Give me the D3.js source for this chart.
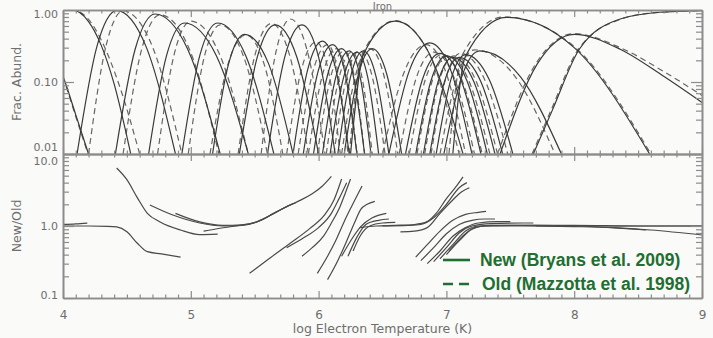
<!DOCTYPE html>
<html>
<head>
<meta charset="utf-8">
<script src="https://cdn.jsdelivr.net/npm/d3@7"></script>
<style>
  html, body { margin: 0; padding: 0; background: #fafaf8; }
  svg { display: block; font-family: "Liberation Sans", Arial, Helvetica, sans-serif; }
</style>
</head>
<body>
<svg id="chart" width="713" height="338"></svg>
<script>
// ---- Iron ionization balance: fractional abundance of Fe I ... Fe XXVII ----
const ions = ["Fe I","Fe II","Fe III","Fe IV","Fe V","Fe VI","Fe VII","Fe VIII","Fe IX",
  "Fe X","Fe XI","Fe XII","Fe XIII","Fe XIV","Fe XV","Fe XVI","Fe XVII","Fe XVIII",
  "Fe XIX","Fe XX","Fe XXI","Fe XXII","Fe XXIII","Fe XXIV","Fe XXV","Fe XXVI","Fe XXVII"];

// [log T, fraction] samples, new rates (Bryans et al. 2009)
const newFrac = [
  [[3.9,0.3],[4.0,0.12],[4.1,0.035],[4.2,0.01]],
  [[3.9,0.97],[4.07,1.0],[4.2,0.69],[4.3,0.32],[4.4,0.094],[4.53,0.01]],
  [[4.11,0.01],[4.265,0.31],[4.42,0.98],[4.65,0.31],[4.88,0.01]],
  [[4.41,0.01],[4.565,0.287],[4.72,0.88],[4.975,0.287],[5.23,0.01]],
  [[4.67,0.01],[4.81,0.232],[4.95,0.66],[5.2,0.232],[5.45,0.01]],
  [[4.93,0.01],[5.07,0.232],[5.21,0.66],[5.43,0.232],[5.65,0.01]],
  [[5.17,0.01],[5.295,0.177],[5.42,0.46],[5.61,0.177],[5.8,0.01]],
  [[5.38,0.01],[5.52,0.221],[5.66,0.62],[5.83,0.221],[6.0,0.01]],
  [[5.6,0.01],[5.735,0.221],[5.87,0.62],[6.0,0.221],[6.13,0.01]],
  [[5.8,0.01],[5.915,0.15],[6.03,0.37],[6.135,0.15],[6.24,0.01]],
  [[5.88,0.01],[5.995,0.138],[6.11,0.33],[6.205,0.138],[6.3,0.01]],
  [[5.96,0.01],[6.07,0.125],[6.18,0.29],[6.27,0.125],[6.36,0.01]],
  [[6.03,0.01],[6.135,0.118],[6.24,0.27],[6.325,0.118],[6.41,0.01]],
  [[6.09,0.01],[6.195,0.115],[6.3,0.26],[6.385,0.115],[6.47,0.01]],
  [[6.15,0.01],[6.25,0.118],[6.35,0.27],[6.45,0.118],[6.55,0.01]],
  [[6.2,0.01],[6.31,0.125],[6.42,0.29],[6.535,0.125],[6.65,0.01]],
  [[6.25,0.01],[6.35,0.24],[6.6,0.7],[6.85,0.28],[7.13,0.01]],
  [[6.55,0.01],[6.71,0.144],[6.87,0.35],[7.035,0.144],[7.2,0.01]],
  [[6.68,0.01],[6.815,0.112],[6.95,0.25],[7.11,0.112],[7.27,0.01]],
  [[6.76,0.01],[6.88,0.105],[7.0,0.23],[7.16,0.105],[7.32,0.01]],
  [[6.82,0.01],[6.935,0.101],[7.05,0.22],[7.215,0.101],[7.38,0.01]],
  [[6.87,0.01],[6.985,0.101],[7.1,0.22],[7.27,0.101],[7.44,0.01]],
  [[6.92,0.01],[7.035,0.108],[7.15,0.24],[7.335,0.108],[7.52,0.01]],
  [[6.98,0.01],[7.12,0.118],[7.26,0.27],[7.58,0.118],[7.9,0.01]],
  [[7.05,0.01],[7.15,0.23],[7.47,0.79],[8.0,0.3],[8.59,0.01]],
  [[7.42,0.01],[7.71,0.177],[8.0,0.46],[8.36,0.285],[8.7,0.12],[9.0,0.052]],
  [[7.68,0.01],[7.83,0.041],[8.04,0.285],[8.36,0.75],[8.67,0.93],[9.0,0.98]]
];

// [log T, fraction] samples, old rates (Mazzotta et al. 1998)
const oldFrac = [
  [[3.9,0.28],[4.0,0.115],[4.1,0.033],[4.2,0.0095]],
  [[3.9,0.97],[4.07,1.0],[4.2,0.74],[4.3,0.38],[4.45,0.08],[4.6,0.01]],
  [[4.2,0.01],[4.335,0.309],[4.47,0.97],[4.7,0.309],[4.93,0.01]],
  [[4.47,0.01],[4.615,0.282],[4.76,0.86],[4.99,0.282],[5.22,0.01]],
  [[4.74,0.01],[4.87,0.242],[5.0,0.7],[5.225,0.242],[5.45,0.01]],
  [[4.98,0.01],[5.105,0.221],[5.23,0.62],[5.415,0.221],[5.6,0.01]],
  [[5.15,0.01],[5.29,0.174],[5.43,0.45],[5.575,0.174],[5.72,0.01]],
  [[5.37,0.01],[5.5,0.229],[5.63,0.65],[5.775,0.229],[5.92,0.01]],
  [[5.55,0.01],[5.665,0.255],[5.78,0.75],[5.915,0.255],[6.05,0.01]],
  [[5.75,0.01],[5.865,0.147],[5.98,0.36],[6.075,0.147],[6.17,0.01]],
  [[5.84,0.01],[5.955,0.138],[6.07,0.33],[6.15,0.138],[6.23,0.01]],
  [[5.92,0.01],[6.03,0.125],[6.14,0.29],[6.22,0.125],[6.3,0.01]],
  [[5.99,0.01],[6.095,0.118],[6.2,0.27],[6.28,0.118],[6.36,0.01]],
  [[6.06,0.01],[6.16,0.115],[6.26,0.26],[6.34,0.115],[6.42,0.01]],
  [[6.12,0.01],[6.22,0.118],[6.32,0.27],[6.42,0.118],[6.52,0.01]],
  [[6.18,0.01],[6.29,0.125],[6.4,0.29],[6.51,0.125],[6.62,0.01]],
  [[6.24,0.01],[6.34,0.24],[6.6,0.71],[6.85,0.28],[7.1,0.01]],
  [[6.5,0.01],[6.67,0.138],[6.84,0.33],[6.995,0.138],[7.15,0.01]],
  [[6.63,0.01],[6.765,0.115],[6.9,0.26],[7.06,0.115],[7.22,0.01]],
  [[6.71,0.01],[6.835,0.108],[6.96,0.24],[7.12,0.108],[7.28,0.01]],
  [[6.77,0.01],[6.89,0.105],[7.01,0.23],[7.175,0.105],[7.34,0.01]],
  [[6.83,0.01],[6.945,0.105],[7.06,0.23],[7.23,0.105],[7.4,0.01]],
  [[6.88,0.01],[6.995,0.112],[7.11,0.25],[7.295,0.112],[7.48,0.01]],
  [[6.95,0.01],[7.085,0.121],[7.22,0.28],[7.535,0.121],[7.85,0.01]],
  [[7.02,0.01],[7.12,0.23],[7.45,0.8],[8.0,0.31],[8.6,0.01]],
  [[7.4,0.01],[7.7,0.18],[8.0,0.47],[8.36,0.3],[8.7,0.14],[9.0,0.065]],
  [[7.67,0.01],[7.82,0.041],[8.03,0.28],[8.36,0.74],[8.67,0.93],[9.0,0.98]]
];

// [log T, New/Old] ratio samples, one list per ion over its computed range
const ratioCurves = [
  [[4.0,1.05],[4.1,1.07],[4.19,1.1]],
  [[4.0,1.0],[4.2,1.0],[4.35,0.99],[4.42,0.97],[4.5,0.83],[4.58,0.58],[4.66,0.44],[4.77,0.41],[4.92,0.37]],
  [[4.42,6.4],[4.5,4.4],[4.58,2.5],[4.66,1.5],[4.76,1.14],[4.92,0.88],[5.07,0.76],[5.21,0.77]],
  [[4.68,1.96],[4.86,1.42],[5.07,1.1],[5.25,1.0],[5.4,1.02],[5.55,1.2],[5.65,1.5],[5.75,1.85],[5.82,2.1]],
  [[4.88,1.5],[5.07,1.14],[5.25,1.02],[5.4,1.04],[5.55,1.2],[5.65,1.5],[5.75,1.85],[5.85,2.25],[5.95,2.8],[6.03,3.6],[6.1,4.9]],
  [[5.1,0.85],[5.23,0.93],[5.35,1.0],[5.5,1.12],[5.62,1.4],[5.72,1.75],[5.8,2.05]],
  [[5.46,0.22],[5.62,0.36],[5.78,0.58],[5.93,0.92],[6.05,1.45],[6.12,2.3],[6.18,4.5]],
  [[5.75,0.5],[5.88,0.68],[6.0,0.95],[6.1,1.5],[6.16,2.4],[6.22,4.0]],
  [[5.87,0.38],[5.95,0.5],[6.04,0.73],[6.1,1.1],[6.17,1.9],[6.21,2.9],[6.25,4.5]],
  [[5.99,0.22],[6.07,0.38],[6.14,0.66],[6.2,1.15],[6.26,1.9],[6.34,3.6]],
  [[6.07,0.18],[6.15,0.33],[6.22,0.62],[6.28,1.1],[6.33,1.7],[6.38,2.0],[6.44,2.2]],
  [[6.18,0.38],[6.25,0.62],[6.33,0.98],[6.42,1.3],[6.53,1.5]],
  [[6.23,0.38],[6.3,0.7],[6.37,1.05],[6.47,1.2],[6.55,1.25]],
  [[6.27,0.45],[6.33,0.75],[6.4,1.0],[6.5,1.1],[6.6,1.12]],
  [[6.32,0.95],[6.45,1.0],[6.6,1.02],[6.75,1.05],[6.85,1.15],[6.92,1.5],[7.0,2.4],[7.08,3.6],[7.13,4.8]],
  [[6.64,0.83],[6.75,0.85],[6.85,0.95],[6.95,1.5],[7.05,2.3],[7.12,3.0],[7.18,3.4]],
  [[6.5,1.0],[6.7,1.02],[6.8,1.05],[6.9,1.3],[7.0,2.0],[7.1,3.4],[7.16,4.0]],
  [[6.76,0.37],[6.85,0.55],[6.95,0.85],[7.05,1.2],[7.15,1.45],[7.25,1.55],[7.31,1.6]],
  [[6.8,0.33],[6.9,0.5],[7.0,0.78],[7.1,1.05],[7.2,1.2],[7.3,1.25],[7.38,1.25]],
  [[6.85,0.3],[6.95,0.45],[7.05,0.72],[7.15,0.95],[7.25,1.1],[7.4,1.15],[7.5,1.15]],
  [[6.9,0.32],[7.0,0.5],[7.1,0.8],[7.2,1.0],[7.35,1.08],[7.6,1.1],[7.68,1.1]],
  [[6.95,0.35],[7.05,0.55],[7.15,0.85],[7.25,1.0],[7.5,1.02],[8.0,1.02],[8.5,1.0],[9.0,1.0]],
  [[7.0,0.4],[7.1,0.62],[7.2,0.9],[7.3,1.0],[7.6,1.0],[8.0,0.98],[8.3,0.95],[8.6,0.88],[9.0,0.75]],
  [[7.02,0.45],[7.12,0.7],[7.22,0.95],[7.35,1.02],[7.7,1.02],[8.0,1.0],[8.3,0.95],[8.56,0.88]],
  [[7.7,1.0],[8.2,1.0],[8.7,1.0],[9.0,1.0]]
];

// axis ticks and labels
const xMajor = [4, 5, 6, 7, 8, 9];
const fracMajor = [0.01, 0.1, 1];
const ratioMajor = [0.1, 1, 10];
const legendItems = ["New (Bryans et al. 2009)", "Old (Mazzotta et al. 1998)"];
const title = "Iron";
const xTitle = "log Electron Temperature (K)";

// ---- layout ----
const L = 63, R = 702, T1 = 10, B1 = 154, T2 = 154, B2 = 298;
const axisColor = "#8c8c8c", textColor = "#6e6e6e", lineColor = "#3a3a3a", green = "#216e31";
const labelFont = '"DejaVu Sans", "Liberation Sans", sans-serif';

const svg = d3.select("#chart");
const x = d3.scaleLinear().domain([4, 9]).range([L, R]);
const yFrac = d3.scaleLog().domain([0.01, 1]).range([B1, T1]);
const yRatio = d3.scaleLog().domain([0.1, 10]).range([B2, T2]);

const xMinor = d3.range(40, 91).filter(i => i % 10 !== 0).map(i => i / 10);
function logMinor(dom) {
  const out = [];
  for (let e = Math.log10(dom[0]); e < Math.log10(dom[1]); e++)
    for (let m = 2; m <= 9; m++) out.push(m * Math.pow(10, e));
  return out;
}

const defs = svg.append("defs");
defs.append("clipPath").attr("id", "clipTop").append("rect")
  .attr("x", L).attr("y", T1).attr("width", R - L).attr("height", B1 - T1);
defs.append("clipPath").attr("id", "clipBot").append("rect")
  .attr("x", L).attr("y", T2).attr("width", R - L).attr("height", B2 - T2);

// ---- curves ----
const fracLine = d3.line().x(d => x(d[0])).y(d => yFrac(d[1])).curve(d3.curveMonotoneX);
const ratioLine = d3.line().x(d => x(d[0])).y(d => yRatio(d[1])).curve(d3.curveMonotoneX);

const gTop = svg.append("g").attr("clip-path", "url(#clipTop)");
gTop.selectAll("path.old").data(oldFrac).join("path")
  .attr("class", "old").attr("d", fracLine)
  .attr("fill", "none").attr("stroke", "#666").attr("stroke-width", 1.2)
  .attr("stroke-dasharray", "6,4");
gTop.selectAll("path.new").data(newFrac).join("path")
  .attr("class", "new").attr("d", fracLine)
  .attr("fill", "none").attr("stroke", lineColor).attr("stroke-width", 1.2);

const gBot = svg.append("g").attr("clip-path", "url(#clipBot)");
gBot.selectAll("path.ratio").data(ratioCurves).join("path")
  .attr("class", "ratio").attr("d", ratioLine)
  .attr("fill", "none").attr("stroke", "#4a4a4a").attr("stroke-width", 1.2);

// ---- axes (IDL-style inward ticks on every side) ----
function styleAxis(g) {
  g.selectAll(".domain").attr("stroke", axisColor).attr("stroke-width", 1.6);
  g.selectAll(".tick line").attr("stroke", axisColor).attr("stroke-width", 1.2);
  g.selectAll("text").attr("fill", textColor).attr("font-size", 12)
    .attr("font-family", labelFont);
}

function panelAxes(y, top, bottom, majors, fmt, withXLabels, labelNudge) {
  // x axes along top and bottom edges
  svg.append("g").attr("transform", `translate(0,${top})`)
    .call(d3.axisTop(x).tickValues(xMajor).tickSize(-7).tickSizeOuter(0).tickFormat(""))
    .call(styleAxis);
  svg.append("g").attr("transform", `translate(0,${top})`)
    .call(d3.axisTop(x).tickValues(xMinor).tickSize(-3.5).tickSizeOuter(0).tickFormat(""))
    .call(styleAxis);
  svg.append("g").attr("transform", `translate(0,${bottom})`)
    .call(d3.axisBottom(x).tickValues(xMajor).tickSize(-7).tickSizeOuter(0).tickPadding(12)
      .tickFormat(withXLabels ? d3.format("d") : ""))
    .call(styleAxis);
  svg.append("g").attr("transform", `translate(0,${bottom})`)
    .call(d3.axisBottom(x).tickValues(xMinor).tickSize(-3.5).tickSizeOuter(0).tickFormat(""))
    .call(styleAxis);
  // y axes along left and right edges
  const left = svg.append("g").attr("transform", `translate(${L},0)`)
    .call(d3.axisLeft(y).tickValues(majors).tickSize(-11).tickSizeOuter(0).tickPadding(5).tickFormat(fmt))
    .call(styleAxis);
  left.selectAll(".tick text").attr("font-size", 11)
    .attr("dy", (d, i) => (0.34 + labelNudge[i] / 11) + "em");
  svg.append("g").attr("transform", `translate(${L},0)`)
    .call(d3.axisLeft(y).tickValues(logMinor(y.domain())).tickSize(-6).tickSizeOuter(0).tickFormat(""))
    .call(styleAxis);
  svg.append("g").attr("transform", `translate(${R},0)`)
    .call(d3.axisRight(y).tickValues(majors).tickSize(-11).tickSizeOuter(0).tickFormat(""))
    .call(styleAxis);
  svg.append("g").attr("transform", `translate(${R},0)`)
    .call(d3.axisRight(y).tickValues(logMinor(y.domain())).tickSize(-6).tickSizeOuter(0).tickFormat(""))
    .call(styleAxis);
}

panelAxes(yFrac, T1, B1, fracMajor, d3.format(".2f"), false, [-7, 0, 4]);
panelAxes(yRatio, T2, B2, ratioMajor, d3.format(".1f"), true, [-3, 0, 7]);

// ---- titles ----
svg.append("text").attr("x", (L + R) / 2).attr("y", 9.5).attr("text-anchor", "middle")
  .attr("font-size", 10).attr("font-family", labelFont).attr("fill", textColor).text(title);
svg.append("text").attr("x", (L + R) / 2).attr("y", 333).attr("text-anchor", "middle")
  .attr("font-size", 12.5).attr("font-family", labelFont).attr("fill", textColor).text(xTitle);
svg.append("text").attr("transform", `translate(21,${(T1 + B1) / 2}) rotate(-90)`)
  .attr("text-anchor", "middle").attr("font-size", 12.5).attr("font-family", labelFont)
  .attr("fill", textColor).text("Frac. Abund.");
svg.append("text").attr("transform", `translate(21,${(T2 + B2) / 2}) rotate(-90)`)
  .attr("text-anchor", "middle").attr("font-size", 12.5).attr("font-family", labelFont)
  .attr("fill", textColor).text("New/Old");

// ---- legend ----
const leg = svg.append("g");
leg.append("line").attr("x1", 443).attr("x2", 470).attr("y1", 260).attr("y2", 260)
  .attr("stroke", green).attr("stroke-width", 2.6);
leg.append("line").attr("x1", 443).attr("x2", 470).attr("y1", 284).attr("y2", 284)
  .attr("stroke", green).attr("stroke-width", 2.6).attr("stroke-dasharray", "10,6");
leg.selectAll("text").data(legendItems).join("text")
  .attr("x", (d, i) => i === 0 ? 480 : 482)
  .attr("y", (d, i) => i === 0 ? 266 : 290)
  .attr("font-size", 17.5).attr("font-weight", "bold")
  .attr("font-family", '"Liberation Sans", Arial, sans-serif')
  .attr("fill", green).text(d => d);
</script>
</body>
</html>
